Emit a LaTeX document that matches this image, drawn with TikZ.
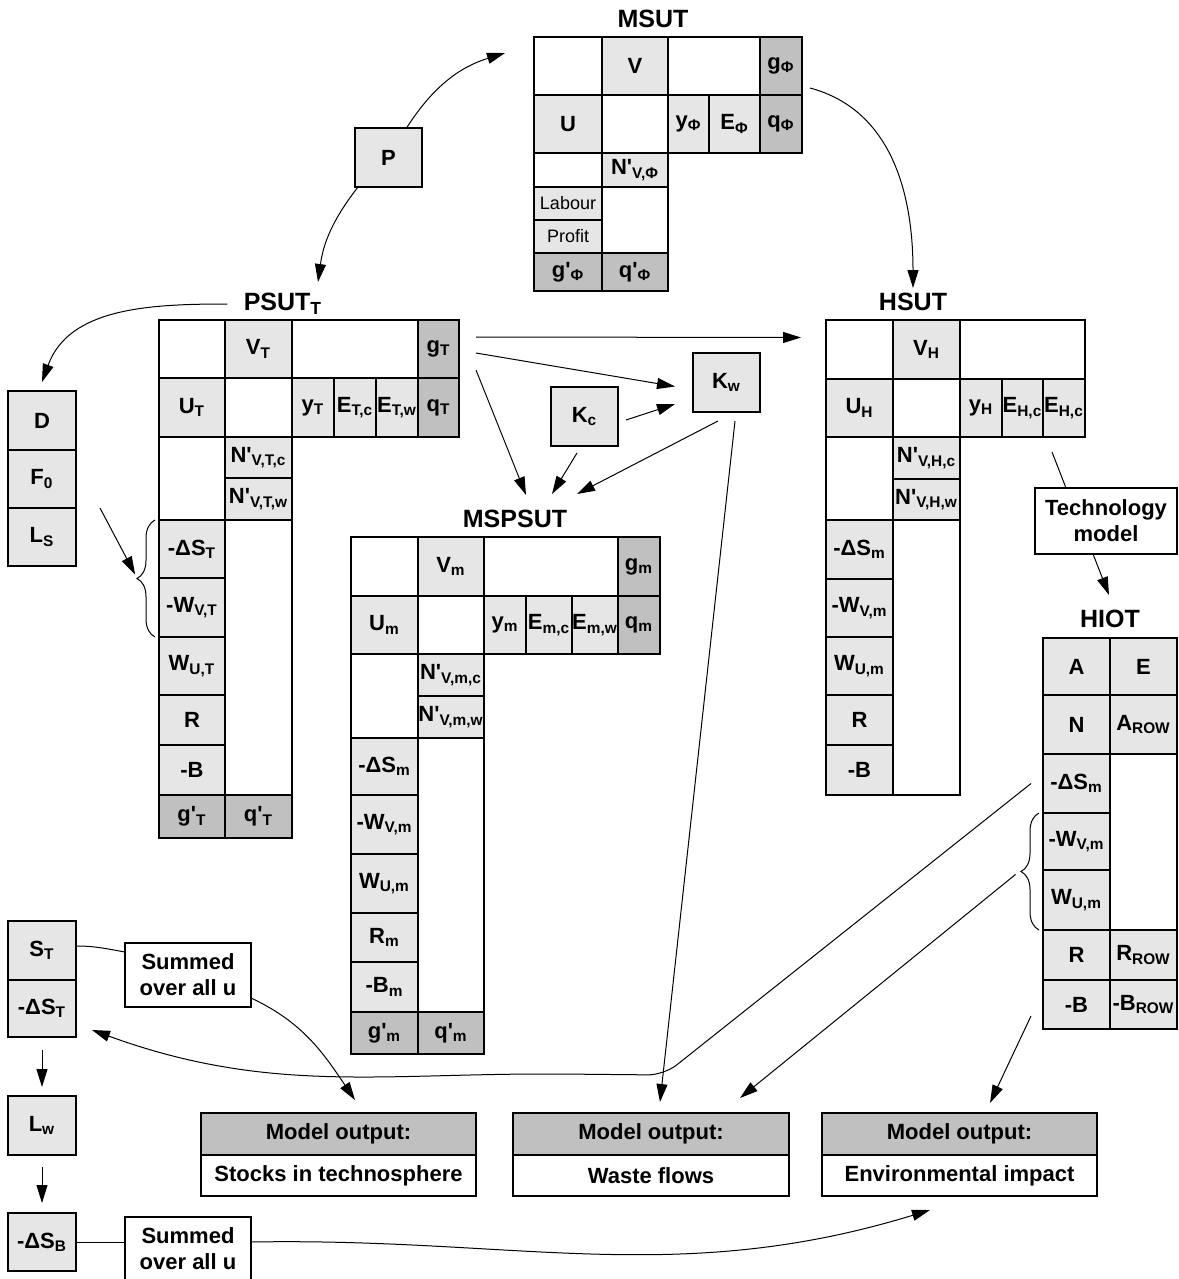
\documentclass[tikz,border=0pt]{standalone}
\usepackage{fontspec}
\newfontfamily\arialfont{Liberation Sans}
\usetikzlibrary{arrows.meta,decorations.pathreplacing}
\definecolor{lightcell}{RGB}{230,230,230}
\definecolor{darkcell}{RGB}{192,192,192}
\newcommand{\lo}[1]{\textsubscript{#1}}
\newcommand{\mcell}[7]{\node[#1, minimum width={(#5-#3)*0.5pt}, minimum height={(#6-#4)*0.5pt}] (#2) at ({(#3+#5)/2},{(#4+#6)/2}) {#7};}
\tikzset{%
    cellbox/.style={%
        draw=black, line width=0.6pt, inner sep=0pt, outer sep=0pt,
        font=\arialfont\bfseries\fontsize{11}{13}\selectfont
    },
    blank/.style={%
        cellbox, fill=white
    },
    light/.style={%
        cellbox, fill=lightcell
    },
    dark/.style={%
        cellbox, fill=darkcell
    },
    plain/.style={%
        light, font=\arialfont\fontsize{9}{11}\selectfont
    },
    note/.style={%
        blank, align=center
    },
    ttl/.style={%
        inner sep=0pt, font=\arialfont\bfseries\fontsize{12.5}{15}\selectfont
    },
    arr/.style={%
        -{Triangle[length=9pt,width=5.5pt]}, line width=0.5pt
    },
    link/.style={%
        line width=0.5pt
    },
    grp/.style={%
        decorate, decoration={brace, amplitude=9pt}, line width=0.5pt
    },
}

\begin{document}
\begin{tikzpicture}[x=0.5pt,y=-0.5pt]
  \useasboundingbox (0,0) rectangle (1178,1279);
  \clip (0,0) rectangle (1178,1279);

  % MSUT
  \node[ttl] (msutT) at (653,19) {MSUT};
  \mcell{blank}{m11}{534}{37}{602}{95}{}
  \mcell{light}{mV}{602}{37}{668}{95}{V}
  \mcell{blank}{m13}{668}{37}{760}{95}{}
  \mcell{dark}{mg}{760}{37}{802}{95}{g\lo{Φ}}
  \mcell{light}{mU}{534}{95}{602}{153}{U}
  \mcell{blank}{m22}{602}{95}{668}{153}{}
  \mcell{light}{my}{668}{95}{709}{153}{y\lo{Φ}}
  \mcell{light}{mE}{709}{95}{760}{153}{E\lo{Φ}}
  \mcell{dark}{mq}{760}{95}{802}{153}{q\lo{Φ}}
  \mcell{blank}{m31}{534}{153}{602}{187}{}
  \mcell{light}{mN}{602}{153}{668}{187}{N'\lo{V,Φ}}
  \mcell{plain}{mLab}{534}{187}{602}{220}{Labour}
  \mcell{plain}{mPro}{534}{220}{602}{253}{Profit}
  \mcell{blank}{m42}{602}{187}{668}{253}{}
  \mcell{dark}{mgt}{534}{253}{602}{291}{g'\lo{Φ}}
  \mcell{dark}{mqt}{602}{253}{668}{291}{q'\lo{Φ}}

  \mcell{light}{P}{355}{128}{422}{187}{P}

  % PSUT_T
  \node[ttl] (psutT) at (283,304) {PSUT\lo{T}};
  \mcell{blank}{p11}{159}{320}{225}{378}{}
  \mcell{light}{pV}{225}{320}{292}{378}{V\lo{T}}
  \mcell{blank}{p13}{292}{320}{418}{378}{}
  \mcell{dark}{pg}{418}{320}{459}{378}{g\lo{T}}
  \mcell{light}{pU}{159}{378}{225}{437}{U\lo{T}}
  \mcell{blank}{p22}{225}{378}{292}{437}{}
  \mcell{light}{py}{292}{378}{334}{437}{y\lo{T}}
  \mcell{light}{pEc}{334}{378}{376}{437}{E\lo{T,c}}
  \mcell{light}{pEw}{376}{378}{418}{437}{E\lo{T,w}}
  \mcell{dark}{pq}{418}{378}{459}{437}{q\lo{T}}
  \mcell{blank}{p31}{159}{437}{225}{520}{}
  \mcell{light}{pNc}{225}{437}{292}{478}{N'\lo{V,T,c}}
  \mcell{light}{pNw}{225}{478}{292}{520}{N'\lo{V,T,w}}
  \mcell{light}{pDS}{159}{520}{225}{578}{-ΔS\lo{T}}
  \mcell{light}{pWV}{159}{578}{225}{637}{-W\lo{V,T}}
  \mcell{light}{pWU}{159}{637}{225}{695}{W\lo{U,T}}
  \mcell{light}{pR}{159}{695}{225}{745}{R}
  \mcell{light}{pB}{159}{745}{225}{795}{-B}
  \mcell{blank}{p52}{225}{520}{292}{795}{}
  \mcell{dark}{pgt}{159}{795}{225}{838}{g'\lo{T}}
  \mcell{dark}{pqt}{225}{795}{292}{838}{q'\lo{T}}

  % left column
  \mcell{light}{D}{8}{391}{76}{450}{D}
  \mcell{light}{F}{8}{450}{76}{508}{F\lo{0}}
  \mcell{light}{LS}{8}{508}{76}{566}{L\lo{S}}
  \mcell{light}{ST}{8}{921}{76}{980}{S\lo{T}}
  \mcell{light}{sDT}{8}{980}{76}{1037}{-ΔS\lo{T}}
  \mcell{light}{Lw}{8}{1096}{76}{1155}{L\lo{w}}
  \mcell{light}{sDB}{8}{1213}{76}{1271}{-ΔS\lo{B}}

  % MSPSUT
  \node[ttl] (mspsutT) at (515,519) {MSPSUT};
  \mcell{blank}{s11}{351}{537}{418}{596}{}
  \mcell{light}{sV}{418}{537}{484}{596}{V\lo{m}}
  \mcell{blank}{s13}{484}{537}{618}{596}{}
  \mcell{dark}{sg}{618}{537}{660}{596}{g\lo{m}}
  \mcell{light}{sU}{351}{596}{418}{654}{U\lo{m}}
  \mcell{blank}{s22}{418}{596}{484}{654}{}
  \mcell{light}{sy}{484}{596}{526}{654}{y\lo{m}}
  \mcell{light}{sEc}{526}{596}{572}{654}{E\lo{m,c}}
  \mcell{light}{sEw}{572}{596}{618}{654}{E\lo{m,w}}
  \mcell{dark}{sq}{618}{596}{660}{654}{q\lo{m}}
  \mcell{blank}{s31}{351}{654}{418}{738}{}
  \mcell{light}{sNc}{418}{654}{484}{696}{N'\lo{V,m,c}}
  \mcell{light}{sNw}{418}{696}{484}{738}{N'\lo{V,m,w}}
  \mcell{light}{sDS}{351}{738}{418}{795}{-ΔS\lo{m}}
  \mcell{light}{sWV}{351}{795}{418}{854}{-W\lo{V,m}}
  \mcell{light}{sWU}{351}{854}{418}{913}{W\lo{U,m}}
  \mcell{light}{sR}{351}{913}{418}{962}{R\lo{m}}
  \mcell{light}{sB}{351}{962}{418}{1012}{-B\lo{m}}
  \mcell{blank}{s52}{418}{738}{484}{1012}{}
  \mcell{dark}{sgt}{351}{1012}{418}{1054}{g'\lo{m}}
  \mcell{dark}{sqt}{418}{1012}{484}{1054}{q'\lo{m}}

  \mcell{light}{Kc}{551}{387}{618}{446}{K\lo{c}}
  \mcell{light}{Kw}{693}{353}{760}{412}{K\lo{w}}

  % HSUT
  \node[ttl] (hsutT) at (913,302) {HSUT};
  \mcell{blank}{h11}{826}{320}{893}{379}{}
  \mcell{light}{hV}{893}{320}{960}{379}{V\lo{H}}
  \mcell{blank}{h13}{960}{320}{1085}{379}{}
  \mcell{light}{hU}{826}{379}{893}{437}{U\lo{H}}
  \mcell{blank}{h22}{893}{379}{960}{437}{}
  \mcell{light}{hy}{960}{379}{1002}{437}{y\lo{H}}
  \mcell{light}{hEc}{1002}{379}{1043}{437}{E\lo{H,c}}
  \mcell{light}{hEw}{1043}{379}{1085}{437}{E\lo{H,c}}
  \mcell{blank}{h31}{826}{437}{893}{520}{}
  \mcell{light}{hNc}{893}{437}{960}{479}{N'\lo{V,H,c}}
  \mcell{light}{hNw}{893}{479}{960}{520}{N'\lo{V,H,w}}
  \mcell{light}{hDS}{826}{520}{893}{579}{-ΔS\lo{m}}
  \mcell{light}{hWV}{826}{579}{893}{637}{-W\lo{V,m}}
  \mcell{light}{hWU}{826}{637}{893}{695}{W\lo{U,m}}
  \mcell{light}{hR}{826}{695}{893}{745}{R}
  \mcell{light}{hB}{826}{745}{893}{795}{-B}
  \mcell{blank}{h52}{893}{520}{960}{795}{}

  \mcell{note}{tech}{1035}{488}{1177}{554}{Technology\\model}

  % HIOT
  \node[ttl] (hiotT) at (1110,619) {HIOT};
  \mcell{light}{iA}{1043}{638}{1110}{695}{A}
  \mcell{light}{iE}{1110}{638}{1177}{695}{E}
  \mcell{light}{iN}{1043}{695}{1110}{754}{N}
  \mcell{light}{iAr}{1110}{695}{1177}{754}{A\lo{ROW}}
  \mcell{light}{iDS}{1043}{754}{1110}{813}{-ΔS\lo{m}}
  \mcell{light}{iWV}{1043}{813}{1110}{870}{-W\lo{V,m}}
  \mcell{light}{iWU}{1043}{870}{1110}{930}{W\lo{U,m}}
  \mcell{blank}{i32}{1110}{754}{1177}{930}{}
  \mcell{light}{iR}{1043}{930}{1110}{980}{R}
  \mcell{light}{iRr}{1110}{930}{1177}{980}{R\lo{ROW}}
  \mcell{light}{iB}{1043}{980}{1110}{1029}{-B}
  \mcell{light}{iBr}{1110}{980}{1177}{1029}{-B\lo{ROW}}

  % outputs
  \mcell{note}{sum1}{125}{943}{251}{1007}{Summed\\over all u}
  \mcell{note}{sum2}{125}{1217}{251}{1281}{Summed\\over all u}
  \mcell{dark}{o1h}{201}{1113}{476}{1155}{Model output:}
  \mcell{blank}{o1b}{201}{1155}{476}{1196}{Stocks in technosphere}
  \mcell{dark}{o2h}{513}{1113}{789}{1155}{Model output:}
  \mcell{blank}{o2b}{513}{1155}{789}{1196}{Waste flows}
  \mcell{dark}{o3h}{822}{1113}{1097}{1155}{Model output:}
  \mcell{blank}{o3b}{822}{1155}{1097}{1196}{Environmental impact}

  % braces
  \draw[grp] ([xshift=-2pt]pWV.south west) -- ([xshift=-2pt]pDS.north west);
  \coordinate (pbr) at ([xshift=-11pt]pDS.south west);
  \draw[grp] ([xshift=-2pt]iWU.south west) -- ([xshift=-2pt]iWV.north west);
  \coordinate (ibr) at ([xshift=-11pt]iWV.south west);

  % connectors
  \draw[arr] ([xshift=9pt]P.north) to[bend left=20] ([xshift=-14.5pt,yshift=6.5pt]m11.west);
  \draw[arr] ([xshift=1.5pt]P.south west) to[bend right=15] ([xshift=29.75pt,yshift=19pt]pV.north);
  \draw[arr] ([xshift=-8pt]psutT.west) to[out=180,in=70] ([yshift=4.5pt]D.north);
  \draw[arr, shorten >=2pt] ([xshift=12pt]LS.north east) -- (pbr);
  \draw[arr] ([xshift=4pt,yshift=-11pt]mg.east) to[out=-15,in=90] ([xshift=-6.75pt,yshift=16pt]hV.north);

  \draw[arr] ([xshift=8.5pt,yshift=6pt]pg.east) -- ([xshift=-12.5pt,yshift=6pt]h11.west);
  \draw[arr] ([xshift=8.5pt,yshift=-2pt]pg.east) -- ([xshift=-9pt,yshift=-2pt]Kw.west);
  \draw[arr] ([xshift=8.5pt,yshift=-10.5pt]pg.east) -- ([xshift=21pt,yshift=21pt]sV.north east);
  \draw[arr] ([xshift=4pt,yshift=-1.75pt]Kc.east) -- ([xshift=-9pt,yshift=-10.75pt]Kw.west);
  \draw[arr] ([xshift=-3.75pt,yshift=-3.5pt]Kc.south) -- ([xshift=34pt,yshift=21.5pt]sV.north east);
  \draw[arr] ([xshift=-4.25pt,yshift=-4.5pt]Kw.south) -- ([xshift=46.5pt,yshift=21.5pt]sV.north east);
  \draw[arr] ([xshift=4.25pt,yshift=-4.5pt]Kw.south) -- ([xshift=4.5pt,yshift=5.5pt]o2h.north);

  \draw[link] ([xshift=-6pt,yshift=-7.5pt]hEw.south) -- ([xshift=15.5pt]tech.north west);
  \draw[arr] ([xshift=-6.5pt]tech.south) -- ([xshift=-0.5pt,yshift=21.5pt]iA.north east);

  \draw[arr, rounded corners=8pt] ([xshift=-6pt]iDS.west) -- (664,1075) -- (560,1074)
    to[out=180,in=-20] ([xshift=8pt,yshift=-10.75pt]sDT.east);
  \draw[arr, shorten <=3.5pt] (ibr) -- ([xshift=44.5pt,yshift=7.5pt]o2h.north);
  \draw[arr] ([xshift=-6pt,yshift=-5.75pt]iB.west) -- ([xshift=15.25pt,yshift=5pt]o3h.north);

  \draw[link] ([yshift=2.25pt]ST.east) to[out=0,in=170] ([yshift=-4.5pt]sum1.north west);
  \draw[arr] ([yshift=4.5pt]sum1.south east) to[out=-25,in=124] ([xshift=8.25pt,yshift=6.5pt]o1h.north);
  \draw[arr, shorten <=6.5pt, shorten >=4.5pt] (sDT) -- (Lw);
  \draw[arr, shorten <=6pt, shorten >=5pt] (Lw) -- (sDB);
  \draw[link] (sDB.east) -- (sDB.east -| sum2.west);
  \draw[arr] (sDB.east -| sum2.east) to[out=1,in=197] ([xshift=-14.75pt,yshift=-7pt]o3b.south);
\end{tikzpicture}
\end{document}
